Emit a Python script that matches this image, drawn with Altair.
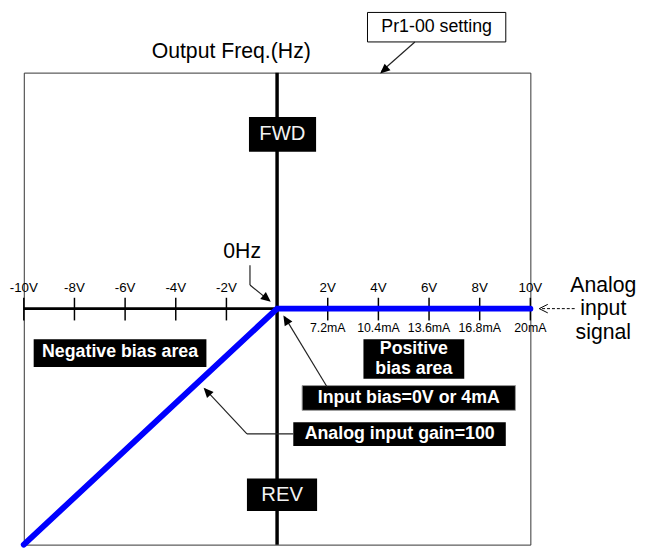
import altair as alt
import pandas as pd

# ---- data: analog input signal (V) vs output frequency (% of Pr1-00) ----
line_volts = [-10, 0, 10]
line_freq = [-100, 0, 0]

tick_volts = [-10, -8, -6, -4, -2, 2, 4, 6, 8, 10]
volt_labels = ["-10V", "-8V", "-6V", "-4V", "-2V", "2V", "4V", "6V", "8V", "10V"]
ma_volts = [2, 4, 6, 8, 10]
ma_labels = ["7.2mA", "10.4mA", "13.6mA", "16.8mA", "20mA"]

XS = alt.Scale(domain=[-10, 10], nice=False, zero=False)
YS = alt.Scale(domain=[-100, 100], nice=False, zero=False)
FONT = "Liberation Sans"


def X():
    return alt.X("v:Q", scale=XS, axis=None)


def Y():
    return alt.Y("f:Q", scale=YS, axis=None)


def rules(rows, **kw):
    df = pd.DataFrame(rows, columns=["v", "f", "v2", "f2"])
    return alt.Chart(df).mark_rule(**kw).encode(
        x=X(), y=Y(), x2=alt.X2("v2"), y2=alt.Y2("f2"))


def texts(rows, **kw):
    df = pd.DataFrame(rows, columns=["v", "f", "t"])
    return alt.Chart(df).mark_text(font=FONT, align="center", baseline="middle", **kw).encode(
        x=X(), y=Y(), text="t:N")


def boxes(rows, **kw):
    df = pd.DataFrame(rows, columns=["v", "v2", "f", "f2"])
    return alt.Chart(df).mark_rect(**kw).encode(
        x=X(), x2=alt.X2("v2"), y=Y(), y2=alt.Y2("f2"))


HEAD = "M0,0 L-0.45,1 L0.45,1 Z"
OPEN_HEAD = "M-0.5,1 L0,0 L0.5,1"


def heads(rows, shape=HEAD, filled=True, size=400, **kw):
    df = pd.DataFrame(rows, columns=["v", "f", "a"])
    return alt.Chart(df).mark_point(shape=shape, filled=filled, size=size, opacity=1, **kw).encode(
        x=X(), y=Y(), angle=alt.Angle("a:Q", scale=None))


# axes through the origin
h_axis = rules([[-10, 0, 10, 0]], color="black", strokeWidth=3)
v_axis = rules([[0, -100, 0, 100]], color="black", strokeWidth=3.5)
ticks = rules([[v, 4.6, v, -5.0] for v in tick_volts], color="black", strokeWidth=1.5)

v_lab = texts([[v, 8.6, t] for v, t in zip(tick_volts, volt_labels)], fontSize=13.5, color="black")
ma_lab = texts([[v, -8.4, t] for v, t in zip(ma_volts, ma_labels)], fontSize=12.5, color="black")

curve = alt.Chart(pd.DataFrame({"v": line_volts, "f": line_freq})).mark_line(
    color="#0000ff", strokeWidth=6, strokeCap="round").encode(x=X(), y=Y())

# black labels
black_boxes = boxes([
    [-1.11, 1.54, 81.2, 66.5],     # FWD
    [-1.19, 1.58, -72.0, -85.8],   # REV
    [-9.61, -2.79, -13.0, -24.7],  # Negative bias area
    [3.41, 7.39, -13.0, -29.7],    # Positive bias area
    [0.64, 9.03, -48.1, -58.2],    # gain
], color="black")
bias_box = boxes([[0.99, 9.41, -32.6, -43.1]], color="black", stroke="#999999", strokeWidth=1)
pr_box = boxes([[3.57, 9.03, 125.5, 113.0]], fill="white", stroke="black", strokeWidth=1)

fwd_rev = texts([[0.21, 73.8, "FWD"], [0.2, -78.9, "REV"]], fontSize=20.5, color="#f2f2f2")
bold_lab = texts([
    [-6.2, -18.6, "Negative bias area"],
    [5.4, -17.2, "Positive"],
    [5.4, -25.6, "bias area"],
    [5.2, -37.7, "Input bias=0V or 4mA"],
    [4.84, -53.0, "Analog input gain=100"],
], fontSize=18, fontWeight="bold", color="white")

plain_big = texts([
    [-1.81, 108.8, "Output Freq.(Hz)"],
    [-1.38, 23.8, "0Hz"],
    [12.88, 9.6, "Analog"],
    [12.88, -0.4, "input"],
    [12.88, -10.5, "signal"],
], fontSize=21.5, color="black")
pr_text = texts([[6.3, 119.5, "Pr1-00 setting"]], fontSize=18, color="black")

# arrows
arrow_lines = rules([
    [5.44, 113.0, 4.11, 100.4],     # Pr1-00
    [-1.07, 18.4, -1.07, 10.0],     # 0Hz
    [-1.07, 10.0, -0.30, 3.3],
    [1.97, -33.1, 0.30, -3.5],      # input bias
    [0.64, -53.1, -1.19, -53.1],    # gain
    [-1.19, -53.1, -2.85, -34.0],
], color="#222222", strokeWidth=1.2)
arrow_heads = heads([
    [4.07, 99.6, 228.5],
    [-0.25, 2.9, 129],
    [0.25, -2.9, 328.6],
    [-2.90, -33.5, 317.5],
], color="black")
dash_line = rules([[11.75, 0, 10.45, 0]], color="black", strokeWidth=1, strokeDash=[3, 2])
dash_head = heads([[10.35, 0, 270]], shape=OPEN_HEAD, filled=False, size=300, color="black", strokeWidth=1)

chart = alt.layer(
    h_axis, v_axis, ticks, v_lab, ma_lab, curve,
    black_boxes, bias_box, pr_box, fwd_rev, bold_lab, plain_big, pr_text,
    arrow_lines, arrow_heads, dash_line, dash_head,
).properties(
    width=513, height=478,
    autosize=alt.AutoSizeParams(type="none"),
    padding={"left": 16, "top": 62, "right": 108, "bottom": 3},
    background="white",
).configure_view(stroke="#333333", strokeWidth=1)

chart.save("out.html", embed_options={"renderer": "svg", "actions": False})
